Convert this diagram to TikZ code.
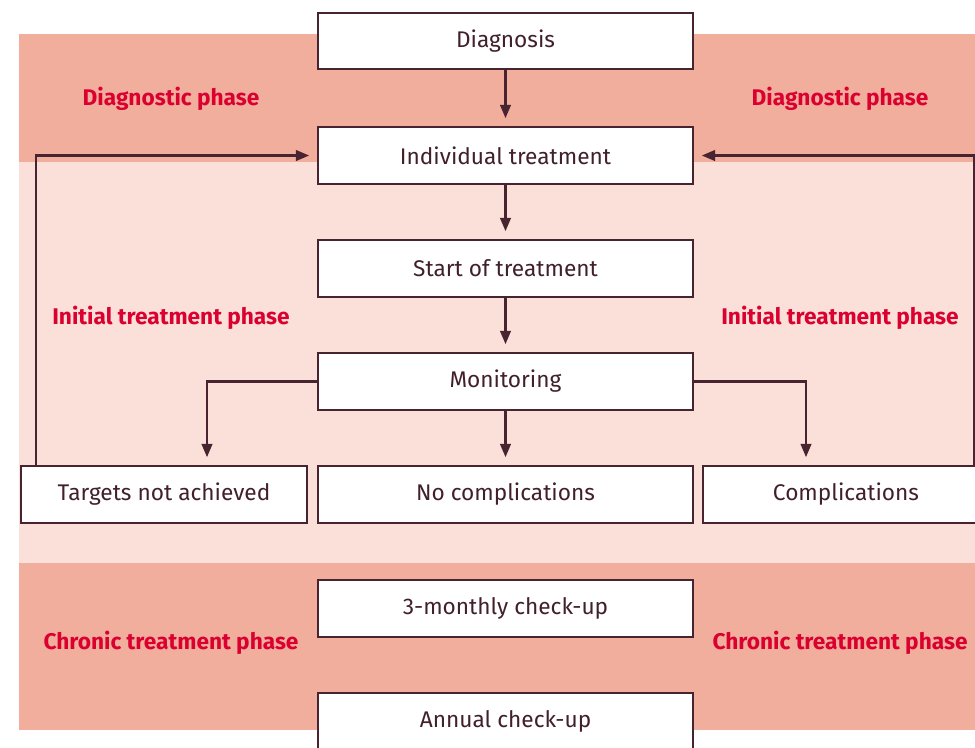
\documentclass[tikz,border=0pt]{standalone}
\usepackage{fontspec}
\setmainfont{Fira Sans}
\usetikzlibrary{arrows.meta}
\definecolor{bandDark}{RGB}{241,174,156}
\definecolor{bandLight}{RGB}{251,224,217}
\definecolor{lineBrown}{RGB}{72,36,48}
\definecolor{phaseRed}{RGB}{218,0,48}
\begin{document}
\begin{tikzpicture}[x=0.75pt,y=-0.75pt,font=\fontsize{17}{20}\selectfont]
        \tikzstyle{step box}=[rectangle,draw=lineBrown,line width=1.5pt,fill=white,text=lineBrown!90!black,minimum height=42.5pt,inner sep=0pt]
        \tikzstyle{edge}=[draw=lineBrown,line width=1.6pt,-{Triangle[length=10pt,width=8pt]},shorten >=6pt]
        \tikzstyle{phase}=[text=phaseRed,font=\fontsize{17}{20}\selectfont\bfseries]
        \useasboundingbox (0,0) rectangle (975,747);
        % bands
        \fill[bandDark] (19,34) rectangle (975,162);
        \fill[bandLight] (19,162) rectangle (975,563);
        \fill[bandDark] (19,563) rectangle (975,730);
        % phase labels
        \node [phase] (dl) at (171,99) {Diagnostic phase};
        \node [phase] (dr) at (840,99) {Diagnostic phase};
        \node [phase] (il) at (171,318) {Initial treatment phase};
        \node [phase] (ir) at (840,318) {Initial treatment phase};
        \node [phase] (cl) at (171,643) {Chronic treatment phase};
        \node [phase] (cr) at (840,643) {Chronic treatment phase};
        % boxes
        \node [step box,minimum width=281pt] (diag) at (505.5,41) {Diagnosis};
        \node [step box,minimum width=281pt] (indiv) at (505.5,155.5) {Individual treatment};
        \node [step box,minimum width=281pt] (start) at (505.5,268.5) {Start of treatment};
        \node [step box,minimum width=281pt] (monit) at (505.5,381.5) {Monitoring};
        \node [step box,minimum width=214.5pt] (targets) at (164,494.5) {Targets not achieved};
        \node [step box,minimum width=281pt] (nocomp) at (505.5,494.5) {No complications};
        \node [step box,minimum width=214.5pt] (comp) at (846,494.5) {Complications};
        \node [step box,minimum width=281pt] (check) at (505.5,608.5) {3-monthly check-up};
        \node [step box,minimum width=281pt] (annual) at (505.5,721.5) {Annual check-up};
        \coordinate (lt) at (36,153);
        \coordinate (rt) at (974,153);
        \coordinate (ml) at (207,0);
        \coordinate (mr) at (806,0);
        % connectors
        \path[edge] (diag) -- (indiv);
        \path[edge] (indiv) -- (start);
        \path[edge] (start) -- (monit);
        \path[edge] (monit) -- (nocomp);
        \path[edge] (monit.west) -| (ml |- targets.north);
        \path[edge] (monit.east) -| (mr |- comp.north);
        \path[edge] (targets.north -| lt) |- (indiv.west);
        \path[edge] (comp.north -| rt) |- (indiv.east);
      \end{tikzpicture}
\end{document}
